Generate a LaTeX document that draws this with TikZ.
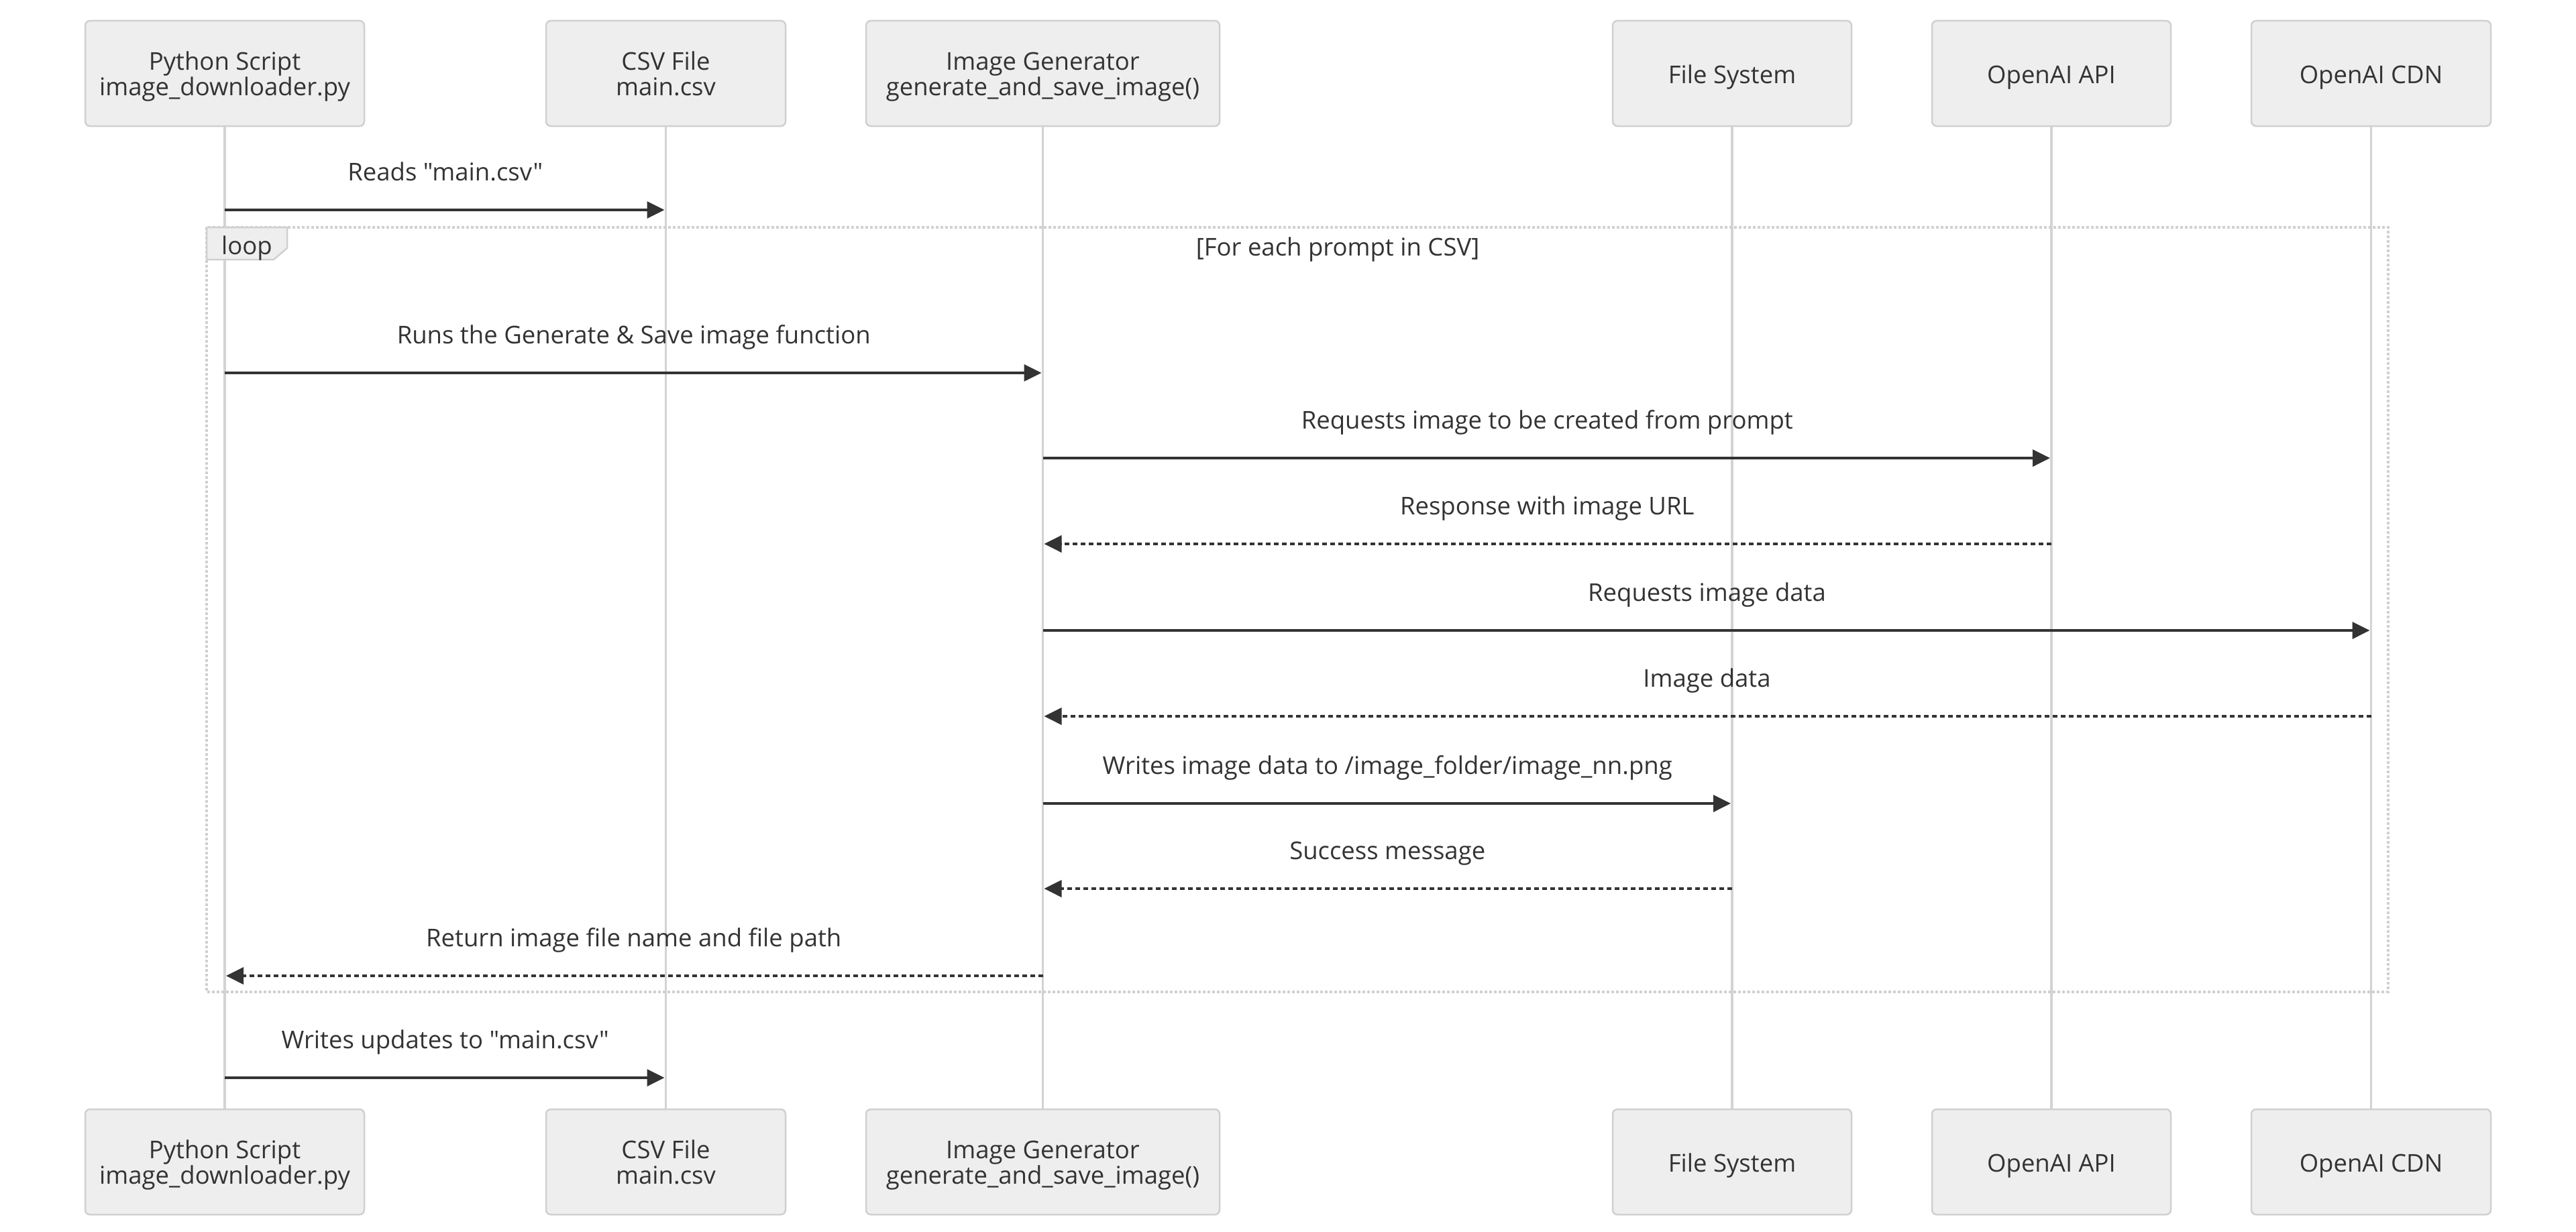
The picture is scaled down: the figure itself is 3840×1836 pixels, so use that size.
\documentclass[tikz,border=0pt]{standalone}
\usepackage{fontspec}
\newfontfamily\osans{Open Sans}
\usetikzlibrary{arrows.meta,calc}
\definecolor{txt}{HTML}{333333}
\definecolor{boxfill}{HTML}{EEEEEE}
\definecolor{boxline}{HTML}{D0D0D0}
\definecolor{lifec}{HTML}{D3D3D3}
\definecolor{arrc}{HTML}{333333}
\definecolor{loopc}{HTML}{D0D0D0}
\newcommand{\msgrow}[6]{%
  \coordinate (#6) at (0,#4);
  \draw[#1] (#2 |- #6) -- node[lbl, yshift=44pt] (#6t) {#5} (#3 |- #6);
}
\begin{document}
\begin{tikzpicture}[x=1pt,y=-1pt,
  actorbox/.style={draw=boxline, line width=2.5pt, fill=boxfill, rounded corners=7pt, minimum height=157pt, inner sep=0pt},
  lbl/.style={anchor=base, text=txt, font=\osans\fontsize{36.5pt}{44pt}\selectfont, inner sep=0pt},
  life/.style={draw=lifec, line width=3.5pt},
  msg/.style={draw=arrc, line width=3.5pt, -{Triangle[length=26pt,width=25pt]}, shorten >=2pt},
  ret/.style={msg, line width=3.8pt, dash pattern=on 7pt off 5pt},
  loopbox/.style={draw=loopc, line width=3.3pt, dash pattern=on 4pt off 3pt},
  looptag/.style={draw=loopc, line width=2.5pt, fill=boxfill},
]
\useasboundingbox (0,0) rectangle (3840,1836);

% participant boxes (top)
\node[actorbox, minimum width=416pt] (a1) at (335,109.5) {};
\node[actorbox, minimum width=357pt] (a2) at (992.5,109.5) {};
\node[actorbox, minimum width=527pt] (a3) at (1554.5,109.5) {};
\node[actorbox, minimum width=356pt] (a4) at (2582,109.5) {};
\node[actorbox, minimum width=356pt] (a5) at (3058,109.5) {};
\node[actorbox, minimum width=357pt] (a6) at (3534.5,109.5) {};
% participant boxes (bottom)
\node[actorbox, minimum width=416pt] (b1) at (335,1732.5) {};
\node[actorbox, minimum width=357pt] (b2) at (992.5,1732.5) {};
\node[actorbox, minimum width=527pt] (b3) at (1554.5,1732.5) {};
\node[actorbox, minimum width=356pt] (b4) at (2582,1732.5) {};
\node[actorbox, minimum width=356pt] (b5) at (3058,1732.5) {};
\node[actorbox, minimum width=357pt] (b6) at (3534.5,1732.5) {};

% lifelines
\foreach \i in {1,...,6} {
  \draw[life] (a\i.south) -- (b\i.north);
}

% box labels
\foreach \p in {a,b} {
  \node[lbl] (\p1t1) at ([yshift=5.5pt]\p1.center) {Python Script};
  \node[lbl] (\p1t2) at ([yshift=-32.5pt]\p1.center) {image\_downloader.py};
  \node[lbl] (\p2t1) at ([yshift=5.5pt]\p2.center) {CSV File};
  \node[lbl] (\p2t2) at ([yshift=-32.5pt]\p2.center) {main.csv};
  \node[lbl] (\p3t1) at ([yshift=5.5pt]\p3.center) {Image Generator};
  \node[lbl] (\p3t2) at ([yshift=-32.5pt]\p3.center) {generate\_and\_save\_image()};
  \node[lbl] (\p4t) at ([yshift=-14.5pt]\p4.center) {File System};
  \node[lbl] (\p5t) at ([yshift=-14.5pt]\p5.center) {OpenAI API};
  \node[lbl] (\p6t) at ([yshift=-14.5pt]\p6.center) {OpenAI CDN};
}

% loop frame
\draw[loopbox] (308,339) rectangle (3560,1479);
\draw[looptag] (308,339) -- (428,339) -- (428,370) -- (408,387) -- (308,387) -- cycle;
\node[lbl] (looplbl) at (368,379) {loop};
\node[lbl] (cond) at (1994,381) {[For each prompt in CSV]};

% messages
\msgrow{msg}{a1}{a2}{313}{Reads "main.csv"}{m1}
\msgrow{msg}{a1}{a3}{556}{Runs the Generate \& Save image function}{m2}
\msgrow{msg}{a3}{a5}{683}{Requests image to be created from prompt}{m3}
\msgrow{ret}{a5}{a3}{811}{Response with image URL}{m4}
\msgrow{msg}{a3}{a6}{940}{Requests image data}{m5}
\msgrow{ret}{a6}{a3}{1068}{Image data}{m6}
\msgrow{msg}{a3}{a4}{1198}{Writes image data to /image\_folder/image\_nn.png}{m7}
\msgrow{ret}{a4}{a3}{1325}{Success message}{m8}
\msgrow{ret}{a3}{a1}{1455}{Return image file name and file path}{m9}
\msgrow{msg}{a1}{a2}{1607}{Writes updates to "main.csv"}{m10}
\end{tikzpicture}
\end{document}
